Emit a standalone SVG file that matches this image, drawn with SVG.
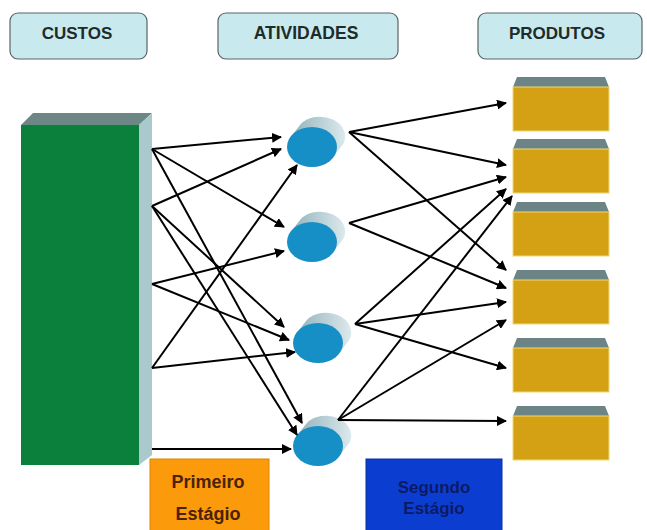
<svg xmlns="http://www.w3.org/2000/svg" xmlns:xlink="http://www.w3.org/1999/xlink" width="647" height="530" viewBox="0 0 647 530">
  <style>
    .hdr rect { fill: #c8e9ed; stroke: #5a6464; stroke-width: 1.2; }
    .hdr text { font-family: "Liberation Sans", Arial, sans-serif; font-weight: bold; font-size: 17px; fill: #1e2b2b; text-anchor: middle; }
    .prod .front { fill: #d4a115; stroke: #f1d872; stroke-width: 1; }
    .prod .top { fill: #6c8486; }
    .stage text { font-family: "Liberation Sans", Arial, sans-serif; font-weight: bold; text-anchor: middle; }
    .links line { stroke: #000; stroke-width: 2; marker-end: url(#arrow); }
  </style>
  <defs>
    <marker id="arrow" viewBox="0 0 10 10" refX="9" refY="5" markerWidth="5" markerHeight="5" orient="auto" markerUnits="strokeWidth">
      <path d="M0,0 L10,5 L0,10 Z" fill="#000"/>
    </marker>
    <linearGradient id="cylBody" x1="0" y1="0" x2="1" y2="0">
      <stop offset="0" stop-color="#8fb0ba"/>
      <stop offset="1" stop-color="#dbe9ec"/>
    </linearGradient>
    <!-- horizontal cylinder, front face centred on the origin -->
    <g id="cyl">
      <path d="M-21.6,-9.6 L-11.6,-22.6 A25,20 0 0 1 31.6,-3.4 L21.6,9.6 A25,20 0 0 1 -21.6,-9.6 Z" fill="url(#cylBody)"/>
      <ellipse cx="0" cy="0" rx="25" ry="20" fill="#168fc6"/>
    </g>
  </defs>

  <!-- column headers -->
  <g id="hdr-custos" class="hdr">
    <rect x="10" y="13" width="137" height="46" rx="8"/>
    <text x="77" y="39">CUSTOS</text>
  </g>
  <g id="hdr-atividades" class="hdr">
    <rect x="218" y="13" width="180" height="46" rx="8"/>
    <text x="306" y="39" style="font-size:17.5px">ATIVIDADES</text>
  </g>
  <g id="hdr-produtos" class="hdr">
    <rect x="478" y="13" width="164" height="46" rx="8"/>
    <text x="557" y="39">PRODUTOS</text>
  </g>

  <!-- cost block -->
  <g id="custos">
    <polygon points="21,125 33,113 152,113 139,125" fill="#6d8787"/>
    <polygon points="139,125 152,113 152,455 139,465" fill="#a9c9cd"/>
    <rect x="21" y="125" width="118" height="340" fill="#0b803d"/>
  </g>

  <!-- activities -->
  <g id="atividade-1"><use xlink:href="#cyl" x="312" y="147"/></g>
  <g id="atividade-2"><use xlink:href="#cyl" x="312" y="242"/></g>
  <g id="atividade-3"><use xlink:href="#cyl" x="318" y="343"/></g>
  <g id="atividade-4"><use xlink:href="#cyl" x="318" y="446"/></g>

  <!-- products -->
  <g id="produto-1" class="prod">
    <polygon class="top" points="513,87 517,77 605,77 609,87"/>
    <rect class="front" x="513" y="87" width="96" height="44"/>
  </g>
  <g id="produto-2" class="prod">
    <polygon class="top" points="513,149 517,139 605,139 609,149"/>
    <rect class="front" x="513" y="149" width="96" height="44"/>
  </g>
  <g id="produto-3" class="prod">
    <polygon class="top" points="513,212 517,202 605,202 609,212"/>
    <rect class="front" x="513" y="212" width="96" height="44"/>
  </g>
  <g id="produto-4" class="prod">
    <polygon class="top" points="513,280 517,270 605,270 609,280"/>
    <rect class="front" x="513" y="280" width="96" height="44"/>
  </g>
  <g id="produto-5" class="prod">
    <polygon class="top" points="513,348 517,338 605,338 609,348"/>
    <rect class="front" x="513" y="348" width="96" height="44"/>
  </g>
  <g id="produto-6" class="prod">
    <polygon class="top" points="513,416 517,406 605,406 609,416"/>
    <rect class="front" x="513" y="416" width="96" height="44"/>
  </g>

  <!-- stage labels -->
  <g id="primeiro-estagio" class="stage">
    <rect x="150" y="459" width="119" height="80" fill="#fb9b0b" stroke="#e08400" stroke-width="1"/>
    <text x="208" y="488" fill="#4b2205" font-size="18">Primeiro</text>
    <text x="208" y="520" fill="#4b2205" font-size="18">Estágio</text>
  </g>
  <g id="segundo-estagio" class="stage">
    <rect x="366" y="459" width="136" height="80" fill="#0b3ed0" stroke="#08309e" stroke-width="1"/>
    <text x="434" y="493" fill="#0c1a66" font-size="17">Segundo</text>
    <text x="434" y="514" fill="#0c1a66" font-size="17">Estágio</text>
  </g>

  <!-- connectors -->
  <g id="links" class="links">
    <!-- first stage: costs to activities -->
    <line x1="152" y1="149" x2="281" y2="137"/>
    <line x1="152" y1="149" x2="284" y2="227"/>
    <line x1="152" y1="149" x2="302" y2="423"/>
    <line x1="152" y1="206" x2="281" y2="149"/>
    <line x1="152" y1="206" x2="284" y2="327"/>
    <line x1="152" y1="206" x2="297" y2="435"/>
    <line x1="152" y1="284" x2="284" y2="251"/>
    <line x1="152" y1="284" x2="289" y2="340"/>
    <line x1="152" y1="368" x2="297" y2="165"/>
    <line x1="152" y1="368" x2="295" y2="352"/>
    <line x1="152" y1="449" x2="291" y2="449"/>
    <!-- second stage: activities to products -->
    <line x1="349" y1="132" x2="506" y2="103"/>
    <line x1="349" y1="132" x2="506" y2="165"/>
    <line x1="349" y1="132" x2="506" y2="270"/>
    <line x1="349" y1="223" x2="506" y2="177"/>
    <line x1="349" y1="223" x2="506" y2="288"/>
    <line x1="355" y1="324" x2="506" y2="189"/>
    <line x1="355" y1="324" x2="506" y2="302"/>
    <line x1="355" y1="324" x2="506" y2="368"/>
    <line x1="338" y1="420" x2="512" y2="196"/>
    <line x1="338" y1="420" x2="506" y2="320"/>
    <line x1="338" y1="420" x2="506" y2="421"/>
  </g>
</svg>
